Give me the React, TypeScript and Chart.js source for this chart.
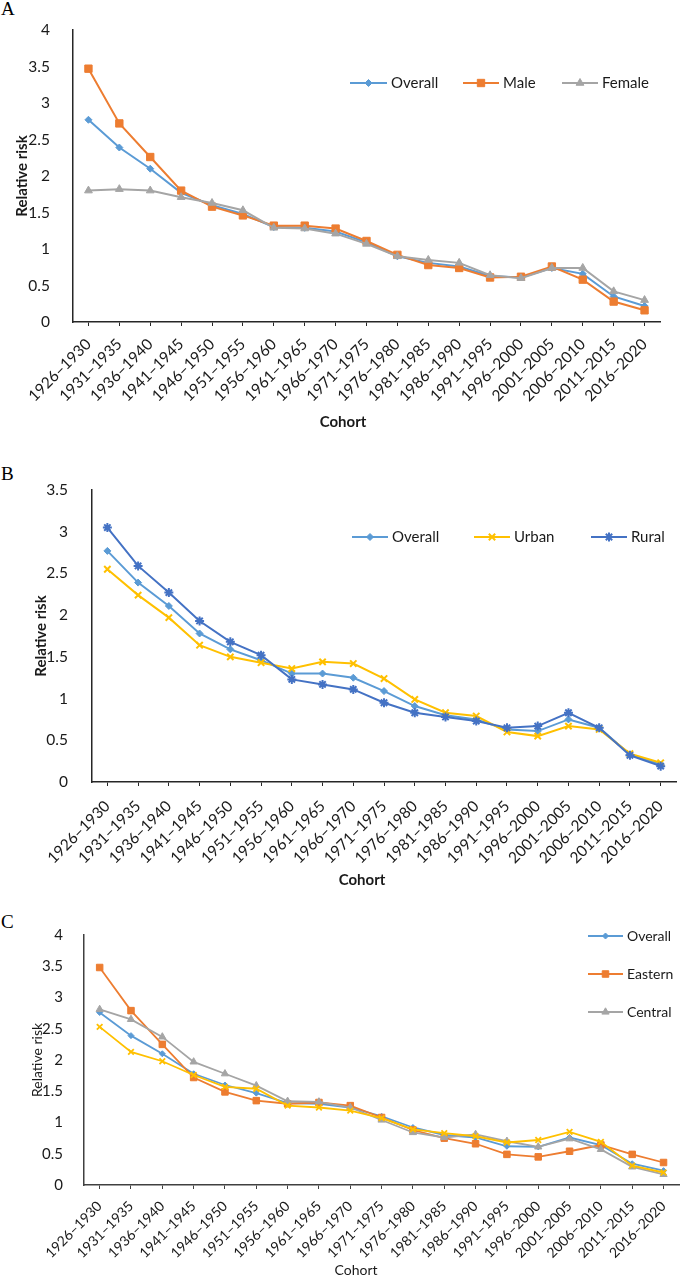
import React, { useEffect, useRef } from 'react';
import { Chart, registerables } from 'chart.js';
import { drawPoint } from 'chart.js/helpers';

Chart.register(...registerables);

const FONT = 'Lato, "Open Sans", "DejaVu Sans", sans-serif';
const TEXT = '#1a1a1a';

// ---------- data ----------
const cohorts = [
  '1926–1930', '1931–1935', '1936–1940', '1941–1945', '1946–1950', '1951–1955', '1956–1960',
  '1961–1965', '1966–1970', '1971–1975', '1976–1980', '1981–1985', '1986–1990', '1991–1995',
  '1996–2000', '2001–2005', '2006–2010', '2011–2015', '2016–2020',
];

// Panel A (sex)
const overallA = [2.77, 2.39, 2.10, 1.77, 1.60, 1.48, 1.30, 1.29, 1.24, 1.09, 0.90, 0.81, 0.76, 0.63, 0.61, 0.74, 0.66, 0.35, 0.22];
const maleA = [3.47, 2.72, 2.26, 1.80, 1.58, 1.46, 1.32, 1.32, 1.28, 1.11, 0.92, 0.78, 0.74, 0.61, 0.62, 0.76, 0.58, 0.28, 0.16];
const femaleA = [1.80, 1.82, 1.80, 1.71, 1.63, 1.53, 1.29, 1.28, 1.21, 1.07, 0.90, 0.85, 0.81, 0.64, 0.60, 0.74, 0.74, 0.42, 0.30];

// Panel B (urban / rural)
const overallB = [2.77, 2.39, 2.11, 1.78, 1.59, 1.46, 1.30, 1.30, 1.25, 1.09, 0.91, 0.80, 0.75, 0.63, 0.61, 0.75, 0.65, 0.33, 0.21];
const urbanB = [2.55, 2.24, 1.97, 1.64, 1.50, 1.43, 1.36, 1.44, 1.42, 1.24, 0.99, 0.83, 0.79, 0.60, 0.55, 0.67, 0.63, 0.34, 0.23];
const ruralB = [3.05, 2.59, 2.27, 1.93, 1.68, 1.52, 1.23, 1.17, 1.11, 0.95, 0.83, 0.78, 0.73, 0.65, 0.67, 0.83, 0.65, 0.32, 0.19];

// Panel C (region)
const overallC = [2.76, 2.39, 2.10, 1.78, 1.60, 1.47, 1.31, 1.30, 1.24, 1.10, 0.92, 0.80, 0.76, 0.62, 0.61, 0.76, 0.64, 0.34, 0.23];
const easternC = [3.48, 2.79, 2.25, 1.72, 1.49, 1.35, 1.30, 1.32, 1.27, 1.08, 0.88, 0.75, 0.66, 0.49, 0.45, 0.54, 0.64, 0.49, 0.36];
const centralC = [2.81, 2.65, 2.37, 1.97, 1.78, 1.59, 1.34, 1.33, 1.24, 1.04, 0.84, 0.76, 0.81, 0.70, 0.61, 0.74, 0.57, 0.29, 0.17];
const westernC = [2.53, 2.13, 1.98, 1.76, 1.57, 1.54, 1.27, 1.24, 1.19, 1.07, 0.89, 0.83, 0.78, 0.68, 0.72, 0.85, 0.69, 0.31, 0.20];

// ---------- styles ----------
type Series = { label: string; data: number[]; color: string; pointStyle: string; radius: number; borderWidth: number };
type LegendItem = { s: Series; x1: number; x2: number; y: number; textX: number };

const BLUE = '#5B9BD5';
const ORANGE = '#ED7D31';
const GRAY = '#A5A5A5';
const YELLOW = '#FFC000';
const DBLUE = '#4472C4';

const sA: Series[] = [
  { label: 'Overall', data: overallA, color: BLUE, pointStyle: 'rectRot', radius: 3.5, borderWidth: 1 },
  { label: 'Male', data: maleA, color: ORANGE, pointStyle: 'rect', radius: 5.2, borderWidth: 1 },
  { label: 'Female', data: femaleA, color: GRAY, pointStyle: 'triangle', radius: 4.5, borderWidth: 1 },
];
const sB: Series[] = [
  { label: 'Overall', data: overallB, color: BLUE, pointStyle: 'rectRot', radius: 3.5, borderWidth: 1 },
  { label: 'Urban', data: urbanB, color: YELLOW, pointStyle: 'crossRot', radius: 4.5, borderWidth: 2 },
  { label: 'Rural', data: ruralB, color: DBLUE, pointStyle: 'star', radius: 4.5, borderWidth: 2 },
];
const sC: Series[] = [
  { label: 'Overall', data: overallC, color: BLUE, pointStyle: 'rectRot', radius: 3, borderWidth: 1 },
  { label: 'Eastern', data: easternC, color: ORANGE, pointStyle: 'rect', radius: 4.6, borderWidth: 1 },
  { label: 'Central', data: centralC, color: GRAY, pointStyle: 'triangle', radius: 4.2, borderWidth: 1 },
  { label: 'Western', data: westernC, color: YELLOW, pointStyle: 'crossRot', radius: 4, borderWidth: 1.8 },
];

type Panel = {
  letter: string; letterTop: number;
  top: number; height: number;
  yMax: number; yWidth: number; xHeight: number; padTop: number; padRight: number;
  series: Series[]; legend: LegendItem[]; legendFont: number;
  yTitle: string; yTitleBold: boolean; yTitleSize: number; yTitlePad: number;
  xTitle: string; xTitleBold: boolean; xTitleSize: number; xTitleX: number; xTitleY: number;
  yTickSize: number; xTickSize: number; yTickPad: number; xTickPad: number; tickLen: number;
  axisColor: string; lineWidth: number;
};

const panels: Panel[] = [
  {
    letter: 'A', letterTop: -1, top: 0, height: 432,
    yMax: 4, yWidth: 73, xHeight: 110, padTop: 30, padRight: 25,
    series: sA, legendFont: 15,
    legend: [
      { s: sA[0], x1: 350, x2: 387, y: 83, textX: 391 },
      { s: sA[1], x1: 463, x2: 499, y: 83, textX: 503 },
      { s: sA[2], x1: 562, x2: 598, y: 83, textX: 602 },
    ],
    yTitle: 'Relative risk', yTitleBold: true, yTitleSize: 15, yTitlePad: 13,
    xTitle: 'Cohort', xTitleBold: true, xTitleSize: 15, xTitleX: 343, xTitleY: 422,
    yTickSize: 15.5, xTickSize: 15.5, yTickPad: 15, xTickPad: 9, tickLen: 4,
    axisColor: '#262626', lineWidth: 2,
  },
  {
    letter: 'B', letterTop: 464, top: 440, height: 450,
    yMax: 3.5, yWidth: 92, xHeight: 108, padTop: 50, padRight: 5,
    series: sB, legendFont: 15,
    legend: [
      { s: sB[0], x1: 352, x2: 388, y: 537, textX: 392 },
      { s: sB[1], x1: 474, x2: 510, y: 537, textX: 514 },
      { s: sB[2], x1: 591, x2: 627, y: 537, textX: 631 },
    ],
    yTitle: 'Relative risk', yTitleBold: true, yTitleSize: 15, yTitlePad: 32,
    xTitle: 'Cohort', xTitleBold: true, xTitleSize: 15, xTitleX: 362, xTitleY: 880,
    yTickSize: 15.5, xTickSize: 15.5, yTickPad: 16, xTickPad: 11, tickLen: 4,
    axisColor: '#262626', lineWidth: 2,
  },
  {
    letter: 'C', letterTop: 912, top: 900, height: 377,
    yMax: 4, yWidth: 84, xHeight: 92, padTop: 35, padRight: 2,
    series: sC, legendFont: 14,
    legend: [
      { s: sC[0], x1: 588, x2: 623, y: 936, textX: 627 },
      { s: sC[1], x1: 588, x2: 623, y: 974, textX: 627 },
      { s: sC[2], x1: 588, x2: 623, y: 1012, textX: 627 },
    ],
    yTitle: 'Relative risk', yTitleBold: false, yTitleSize: 14, yTitlePad: 29,
    xTitle: 'Cohort', xTitleBold: false, xTitleSize: 14, xTitleX: 356, xTitleY: 1270,
    yTickSize: 15, xTickSize: 14, yTickPad: 13, xTickPad: 9, tickLen: 4,
    axisColor: '#404040', lineWidth: 1.8,
  },
];

function PanelChart({ p }: { p: Panel }) {
  const ref = useRef<HTMLCanvasElement | null>(null);
  useEffect(() => {
    const canvas = ref.current;
    if (!canvas) return;
    const overlay = {
      id: 'overlay' + p.letter,
      afterDraw(chart: any) {
        const ctx = chart.ctx as CanvasRenderingContext2D;
        ctx.save();
        for (const it of p.legend) {
          const y = it.y - p.top;
          ctx.strokeStyle = it.s.color;
          ctx.lineWidth = p.lineWidth;
          ctx.beginPath();
          ctx.moveTo(it.x1, y);
          ctx.lineTo(it.x2, y);
          ctx.stroke();
          ctx.fillStyle = it.s.color;
          ctx.strokeStyle = it.s.color;
          ctx.lineWidth = it.s.borderWidth;
          drawPoint(ctx, { pointStyle: it.s.pointStyle as any, radius: it.s.radius, borderWidth: it.s.borderWidth, rotation: 0 } as any, (it.x1 + it.x2) / 2, y);
          ctx.fillStyle = TEXT;
          ctx.font = `${p.legendFont}px ${FONT}`;
          ctx.textAlign = 'left';
          ctx.textBaseline = 'middle';
          ctx.fillText(it.s.label, it.textX, y);
        }
        ctx.fillStyle = TEXT;
        ctx.font = `${p.xTitleBold ? 'bold ' : ''}${p.xTitleSize}px ${FONT}`;
        ctx.textAlign = 'center';
        ctx.textBaseline = 'middle';
        ctx.fillText(p.xTitle, p.xTitleX, p.xTitleY - p.top);
        ctx.restore();
      },
    };
    const n = p.series.length;
    const chart = new Chart(canvas, {
      type: 'line',
      data: {
        labels: cohorts,
        datasets: p.series.map((s, i) => ({
          label: s.label,
          data: s.data,
          borderColor: s.color,
          backgroundColor: s.color,
          borderWidth: p.lineWidth,
          pointStyle: s.pointStyle as any,
          pointRadius: s.radius,
          pointHoverRadius: s.radius,
          pointBackgroundColor: s.color,
          pointBorderColor: s.color,
          pointBorderWidth: s.borderWidth,
          tension: 0,
          fill: false,
          order: n - 1 - i,
        })),
      },
      options: {
        responsive: false,
        animation: false,
        devicePixelRatio: 1,
        layout: { padding: { left: 0, top: p.padTop, right: p.padRight, bottom: 0 } },
        plugins: { legend: { display: false }, tooltip: { enabled: false }, title: { display: false } },
        scales: {
          x: {
            type: 'category',
            offset: true,
            grid: { display: true, drawOnChartArea: false, drawTicks: true, tickLength: p.tickLen, color: p.axisColor, lineWidth: 1, offset: false },
            border: { display: true, color: p.axisColor, width: 1.5 },
            ticks: { autoSkip: false, maxRotation: 45, minRotation: 45, padding: p.xTickPad, color: TEXT, font: { family: FONT, size: p.xTickSize } },
            afterFit: (s: any) => { s.height = p.xHeight; },
          },
          y: {
            min: 0,
            max: p.yMax,
            grid: { display: false },
            border: { display: true, color: p.axisColor, width: 1.5 },
            ticks: {
              stepSize: 0.5,
              padding: p.yTickPad,
              color: TEXT,
              font: { family: FONT, size: p.yTickSize },
              callback: (v: any) => String(Number(v)),
            },
            title: {
              display: true,
              text: p.yTitle,
              color: TEXT,
              font: { family: FONT, size: p.yTitleSize, weight: p.yTitleBold ? 'bold' : 'normal' },
              padding: { top: p.yTitlePad, bottom: 0 },
            },
            afterFit: (s: any) => { s.width = p.yWidth; },
          },
        },
      } as any,
      plugins: [overlay],
    });
    return () => chart.destroy();
  }, [p]);

  return (
    <>
      <div
        style={{
          position: 'absolute', left: 1, top: p.letterTop, fontFamily: '"Liberation Serif", "DejaVu Serif", serif',
          fontSize: 19, lineHeight: '19px', color: '#000',
        }}
      >
        {p.letter}
      </div>
      <canvas
        ref={ref}
        width={685}
        height={p.height}
        style={{ position: 'absolute', left: 0, top: p.top, width: 685, height: p.height }}
      />
    </>
  );
}

export default function App() {
  return (
    <div style={{ position: 'absolute', left: 0, top: 0, width: 685, height: 1277, overflow: 'hidden', background: '#fff' }}>
      {panels.map((p) => (
        <PanelChart key={p.letter} p={p} />
      ))}
    </div>
  );
}
